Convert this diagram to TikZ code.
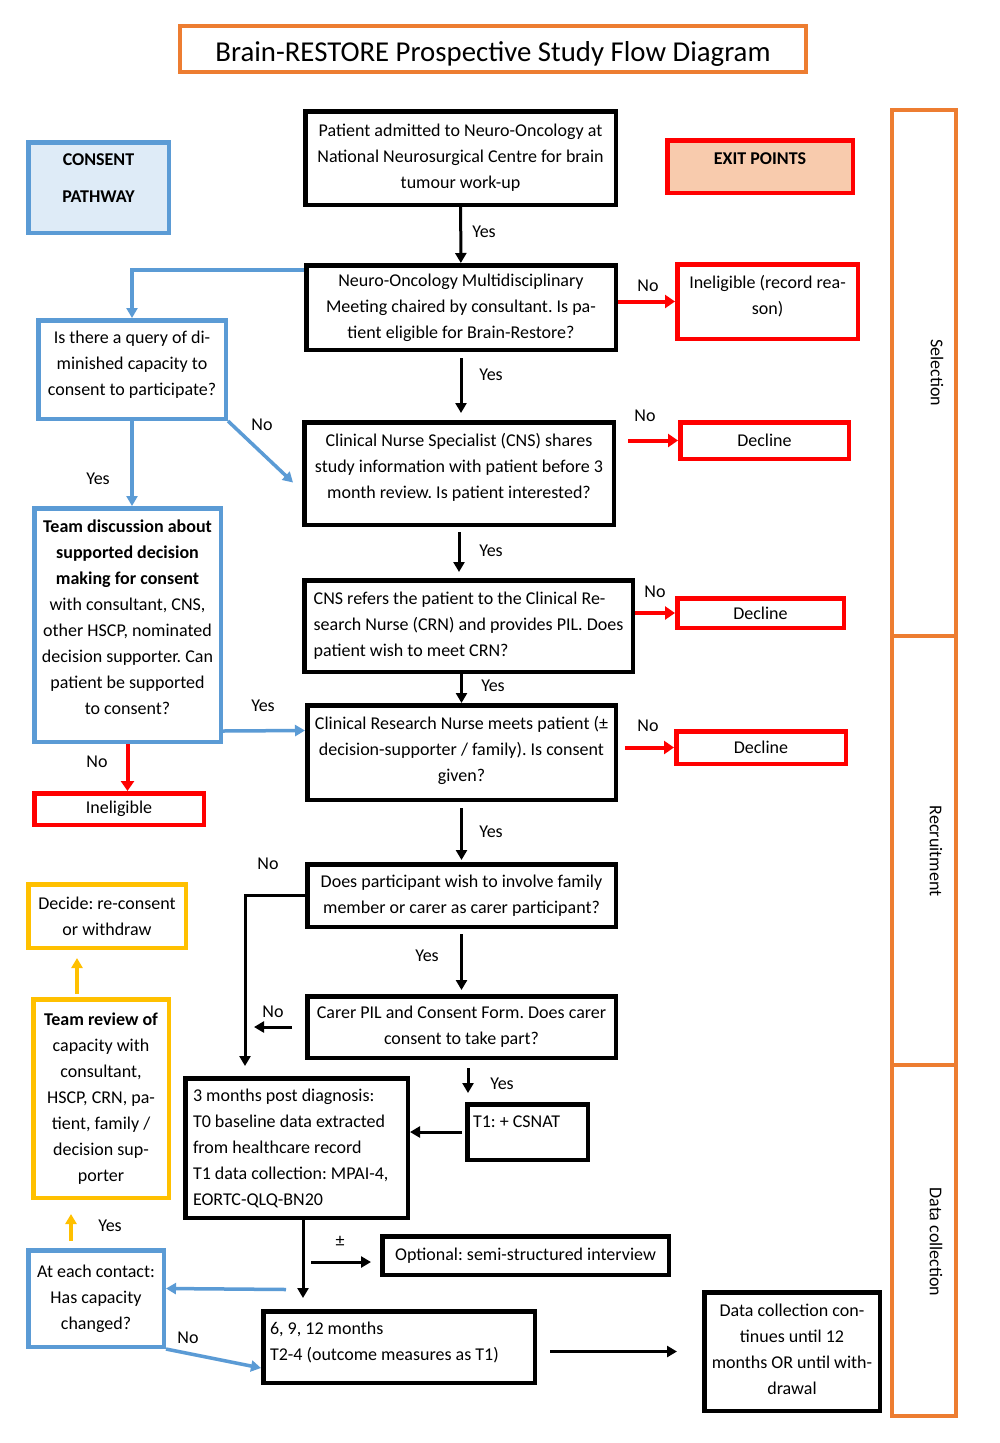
\documentclass[tikz,border=0pt]{standalone}
\usepackage{fontspec}
\setmainfont{Carlito}
\usetikzlibrary{arrows.meta}
\frenchspacing

\definecolor{headOrange}{HTML}{ED7D31}
\definecolor{consBlue}{HTML}{5B9BD5}
\definecolor{consFill}{HTML}{DEEBF7}
\definecolor{exitRed}{HTML}{FF0000}
\definecolor{exitFill}{HTML}{F8CBAD}
\definecolor{revGold}{HTML}{FFC000}

\begin{document}
\begin{tikzpicture}[
  x=1pt, y=-1pt,
  font=\fontsize{18}{26}\selectfont,
  box/.style={draw, line width=4.5pt, align=center, inner sep=4pt},
  rbox/.style={box, draw=exitRed},
  bbox/.style={box, draw=consBlue},
  ybox/.style={box, draw=revGold},
  obox/.style={box, draw=headOrange, line width=4pt},
  arr/.style={-{Triangle[width=11pt,length=10pt]}, line width=3pt},
  rarr/.style={arr, draw=exitRed, line width=4pt, -{Triangle[width=13pt,length=10pt]}},
  barr/.style={arr, draw=consBlue, line width=3.5pt},
  yarr/.style={arr, draw=revGold, line width=3.5pt},
  lbl/.style={inner sep=0pt}
]
\path[use as bounding box, fill=white] (0,0) rectangle (1000,1443);

% heading and keys
\node[obox, minimum width=626pt, minimum height=43pt, font=\fontsize{28.8}{34}\selectfont, text height=32pt, text depth=6pt] (title) at (493,48.5) {Brain-RESTORE Prospective Study Flow Diagram};
\node[bbox, fill=consFill, minimum width=140.5pt, minimum height=90.5pt, font=\fontsize{18}{26}\selectfont\bfseries, text depth=18pt] (consent) at (98.5,187.5) {CONSENT\\[11pt]PATHWAY};
\node[rbox, fill=exitFill, minimum width=185.5pt, minimum height=52.5pt, font=\fontsize{18}{26}\selectfont\bfseries, text depth=16pt] (exits) at (760,166.5) {EXIT POINTS};

% stages on the right
\node[obox, minimum width=64pt, minimum height=526pt] (selBox) at (924,373) {};
\node[obox, minimum width=64pt, minimum height=429pt] (recBox) at (924,850.5) {};
\node[obox, minimum width=64pt, minimum height=351pt] (dataBox) at (924,1240.5) {};
\node[rotate=-90] (selText) at (937,373) {Selection};
\node[rotate=-90] (recText) at (936,851) {Recruitment};
\node[rotate=-90] (dataText) at (936,1242) {Data collection};

% main pathway
\node[box, minimum width=310.5pt, minimum height=93.5pt] (admit) at (460.5,158) {Patient admitted to Neuro-Oncology at\\National Neurosurgical Centre for brain\\tumour work-up};
\node[box, minimum width=309.5pt, minimum height=84.5pt] (mdt) at (461,307.5) {Neuro-Oncology Multidisciplinary\\Meeting chaired by consultant. Is pa-\\tient eligible for Brain-Restore?};
\node[box, minimum width=309.5pt, minimum height=102.5pt, text depth=15pt] (cnsShare) at (459,473.5) {Clinical Nurse Specialist (CNS) shares\\study information with patient before 3\\month review. Is patient interested?};
\node[box, align=left, minimum width=328.5pt, minimum height=91.5pt] (crnRefer) at (468.5,626) {CNS refers the patient to the Clinical Re-\\search Nurse (CRN) and provides PIL. Does\\patient wish to meet CRN?};
\node[box, minimum width=308.5pt, minimum height=94.5pt, text depth=8pt] (crnMeet) at (461.5,752.5) {Clinical Research Nurse meets patient (±\\decision-supporter / family). Is consent\\given?};
\node[box, minimum width=308.5pt, minimum height=62.5pt] (carerAsk) at (461.5,895.5) {Does participant wish to involve family\\member or carer as carer participant?};
\node[box, minimum width=308.5pt, minimum height=61.5pt] (carerForm) at (461.5,1027) {Carer PIL and Consent Form. Does carer\\consent to take part?};
\node[box, align=flush left, text width=109pt, minimum width=120.5pt, minimum height=55.5pt, text depth=20pt] (csnat) at (527.5,1132) {T1: + CSNAT};
\node[box, align=flush left, text width=207pt, minimum width=222.5pt, minimum height=139.5pt] (baseline) at (296.5,1148) {3 months post diagnosis:\\T0 baseline data extracted\\from healthcare record\\T1 data collection: MPAI-4,\\EORTC-QLQ-BN20};
\node[box, minimum width=286.5pt, minimum height=38.5pt] (interview) at (525.5,1255.5) {Optional: semi-structured interview};
\node[box, align=flush left, text width=258pt, minimum width=271.5pt, minimum height=71.5pt, text depth=37.5pt] (followUp) at (399,1347) {6, 9, 12 months\\T2-4 (outcome measures as T1)};
\node[box, minimum width=175.5pt, minimum height=118.5pt, text depth=4pt] (dataEnd) at (792,1351.5) {Data collection con-\\tinues until 12\\months OR until with-\\drawal};

% exit points
\node[rbox, minimum width=180.5pt, minimum height=74.5pt, text depth=13pt] (inelig) at (767.5,301.5) {Ineligible (record rea-\\son)};
\node[rbox, minimum width=168.5pt, minimum height=36.5pt] (declineA) at (764.5,440.5) {Decline};
\node[rbox, minimum width=166.5pt, minimum height=29.5pt] (declineB) at (760.5,613) {Decline};
\node[rbox, minimum width=169.5pt, minimum height=32.5pt] (declineC) at (761,747.5) {Decline};
\node[rbox, minimum width=169.5pt, minimum height=31.5pt] (ineligCap) at (119,809) {Ineligible};

% consent pathway
\node[bbox, minimum width=187.5pt, minimum height=98.5pt, text depth=12.5pt] (queryCap) at (132,369.5) {Is there a query of di-\\minished capacity to\\consent to participate?};
\node[bbox, minimum width=186.5pt, minimum height=233.5pt, text depth=16pt] (teamDisc) at (127.5,625) {\textbf{Team discussion about}\\\textbf{supported decision}\\\textbf{making for consent}\\with consultant, CNS,\\other HSCP, nominated\\decision supporter. Can\\patient be supported\\to consent?};
\node[bbox, minimum width=135.5pt, minimum height=96.5pt] (capCheck) at (96,1298.5) {At each contact:\\Has capacity\\changed?};
\node[ybox, minimum width=157.5pt, minimum height=63.5pt] (decide) at (107,916) {Decide: re-consent\\or withdraw};
\node[ybox, minimum width=135.5pt, minimum height=198.5pt] (teamReview) at (101,1098.5) {\textbf{Team review of}\\capacity with\\consultant,\\HSCP, CRN, pa-\\tient, family /\\decision sup-\\porter};

% main arrows
\draw[arr] (admit) -- (mdt);
\draw[arr, shorten <=6pt, shorten >=7pt] (mdt.south) -- (mdt.south |- cnsShare.north);
\draw[arr, shorten <=5pt, shorten >=6pt] (cnsShare.south) -- (cnsShare.south |- crnRefer.north);
\draw[arr] (crnRefer.south -| crnMeet.north) -- (crnMeet.north);
\draw[arr, shorten <=6pt, shorten >=2pt] (crnMeet.south) -- (crnMeet.south |- carerAsk.north);
\draw[arr, shorten <=5pt, shorten >=4pt] (carerAsk.south) -- (carerForm.north);
\draw[arr, shorten >=9pt] ([xshift=3pt,yshift=34pt]csnat.north west) -- ([xshift=3pt]csnat.north west);
\draw[arr, shorten <=3pt] (csnat.west) -- (csnat.west -| baseline.east);
\draw[arr] (carerAsk.west) -| ([xshift=62pt,yshift=10pt]baseline.north west);
\draw[arr, shorten <=13pt] (carerForm.west) -- ([xshift=-51pt]carerForm.west);
\draw[arr] ([xshift=6.5pt]baseline.south) -- ([xshift=42pt,yshift=11pt]followUp.north west);
\draw[arr] ([xshift=-69pt,yshift=-6.5pt]interview.west) -- ([xshift=-9pt,yshift=-6.5pt]interview.west);
\draw[arr, shorten <=13pt, shorten >=25pt] (followUp.east |- dataEnd.west) -- (dataEnd.west);

% exits
\draw[rarr] (inelig.west -| mdt.east) -- (inelig.west);
\draw[rarr, shorten <=12pt] (declineA.west -| cnsShare.east) -- (declineA.west);
\draw[rarr] (declineB.west -| crnRefer.east) -- (declineB.west);
\draw[rarr, shorten <=7pt] (declineC.west -| crnMeet.east) -- (declineC.west);
\draw[rarr] (teamDisc.south) -- (teamDisc.south |- ineligCap.north);

% consent arrows
\draw[barr] ([yshift=-7pt]mdt.north west) -| (queryCap.north);
\draw[barr] (queryCap.south) -- (queryCap.south |- teamDisc.north);
\draw[barr] (queryCap.south east) -- ([xshift=-9pt,yshift=-9pt]cnsShare.west);
\draw[barr] ([yshift=13pt]teamDisc.south east) -- ([yshift=22pt]crnMeet.west);
\draw[barr] ([xshift=120pt,yshift=9pt]capCheck.east) -- ([yshift=10pt]capCheck.east);
\draw[barr] (capCheck.south east) -- ([yshift=-21pt]followUp.west);
\draw[yarr] ([xshift=-25pt,yshift=7pt]capCheck.north) -- ([xshift=-30pt,yshift=-14pt]teamReview.south);
\draw[yarr] ([xshift=-24pt,yshift=3pt]teamReview.north) -- ([xshift=-30pt,yshift=-8pt]decide.south);

% labels
\node[lbl] (yes1) at (484,232) {Yes};
\node[lbl] (yes2) at (491,375) {Yes};
\node[lbl] (yes3) at (491,551) {Yes};
\node[lbl] (yes4) at (493,686) {Yes};
\node[lbl] (yes5) at (491,832) {Yes};
\node[lbl] (yes6) at (427,956) {Yes};
\node[lbl] (yes7) at (502,1084) {Yes};
\node[lbl] (no1) at (648,286) {No};
\node[lbl] (no2) at (645,416) {No};
\node[lbl] (no3) at (655,592) {No};
\node[lbl] (no4) at (648,726) {No};
\node[lbl] (no5) at (262,425) {No};
\node[lbl] (yes8) at (98,479) {Yes};
\node[lbl] (yes9) at (263,706) {Yes};
\node[lbl] (no6) at (97,762) {No};
\node[lbl] (no7) at (268,864) {No};
\node[lbl] (no8) at (273,1012) {No};
\node[lbl] (pm) at (340,1241) {±};
\node[lbl] (yes10) at (110,1226) {Yes};
\node[lbl] (no9) at (188,1338) {No};

\end{tikzpicture}
\end{document}
